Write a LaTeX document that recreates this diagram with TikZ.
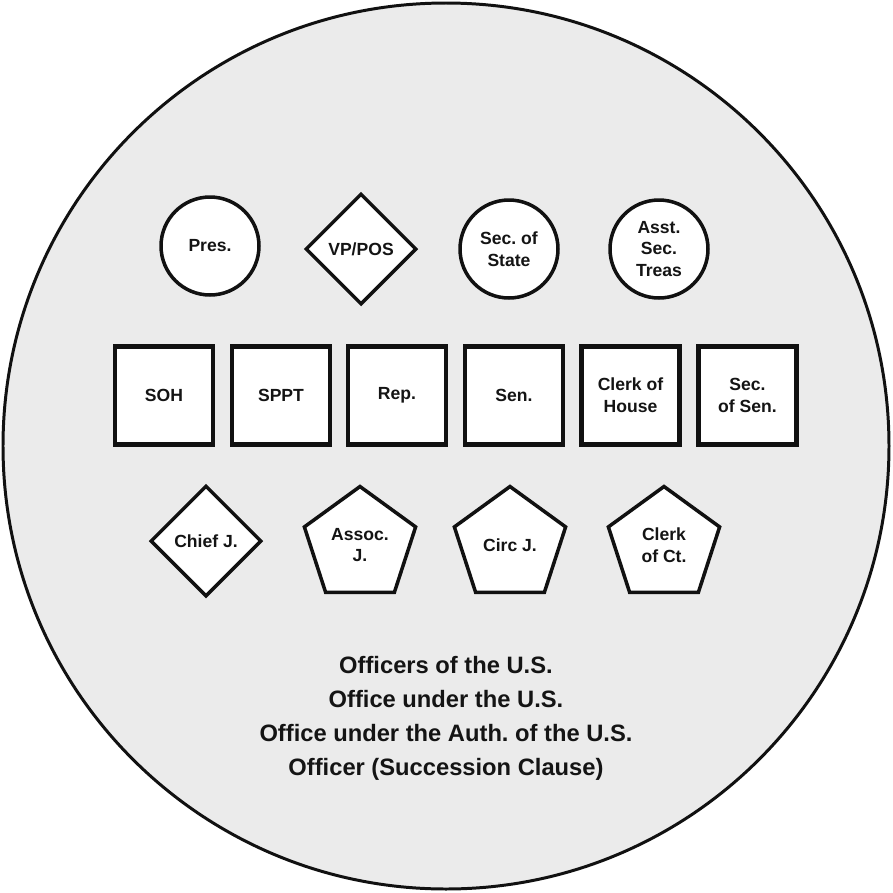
\documentclass[tikz,border=0pt]{standalone}
\usepackage{fontspec}
\setmainfont{Liberation Sans}
\usetikzlibrary{shapes.geometric}
\frenchspacing
\definecolor{ringFill}{RGB}{235,235,235}
\definecolor{officeStroke}{RGB}{17,17,17}
\definecolor{officeText}{RGB}{20,20,20}

\begin{document}
\begin{tikzpicture}[
  x=0.02cm,
  y=-0.02cm,
  office/.style={draw=officeStroke, fill=white, line width=2pt, inner sep=0pt,
    align=center, text=officeText, font=\bfseries\fontsize{10}{12.4}\selectfont},
  roundOffice/.style={office, circle, minimum size=1.96cm},
  diamondOffice/.style={office, diamond, minimum size=2.22cm},
  boxOffice/.style={office, rectangle, line width=2.5pt, minimum size=1.96cm},
  pentOffice/.style={office, regular polygon, regular polygon sides=5, minimum size=2.34cm},
  caption/.style={align=center, text=officeText, font=\bfseries\fontsize{13.5}{19.3}\selectfont}
]
  \useasboundingbox (0,0) rectangle (893,893);

  % outer ring
  \draw[draw=officeStroke, fill=ringFill, line width=1.7pt] (446,446) circle (443*0.02cm);

  % top row
  \node[roundOffice] (pres) at (210,246) {Pres.};
  \node[diamondOffice] (vp) at (361,249) {VP/POS};
  \node[roundOffice] (secstate) at (509,249) {Sec. of\\State};
  \node[roundOffice] (asst) at (659,249) {Asst.\\Sec.\\Treas};

  % middle row
  \foreach \name/\x/\txt in {soh/164/SOH, sppt/281/SPPT, rep/397/Rep., sen/514/Sen.,
      clerk/630.5/{Clerk of\\House}, secsen/747.5/{Sec.\\of Sen.}} {
    \node[boxOffice] (\name) at (\x,395.5) {\txt};
  }

  % bottom row
  \node[diamondOffice] (chief) at (206,541) {Chief J.};
  \node[pentOffice] (assoc) at (360,545) {Assoc.\\J.};
  \node[pentOffice] (circ) at (510,545) {Circ J.};
  \node[pentOffice] (clerkct) at (664,545) {Clerk\\of Ct.};

  \node[caption] (terms) at (446,718) {Officers of the U.S.\\Office under the U.S.\\Office under the Auth. of the U.S.\\Officer (Succession Clause)};
\end{tikzpicture}
\end{document}
